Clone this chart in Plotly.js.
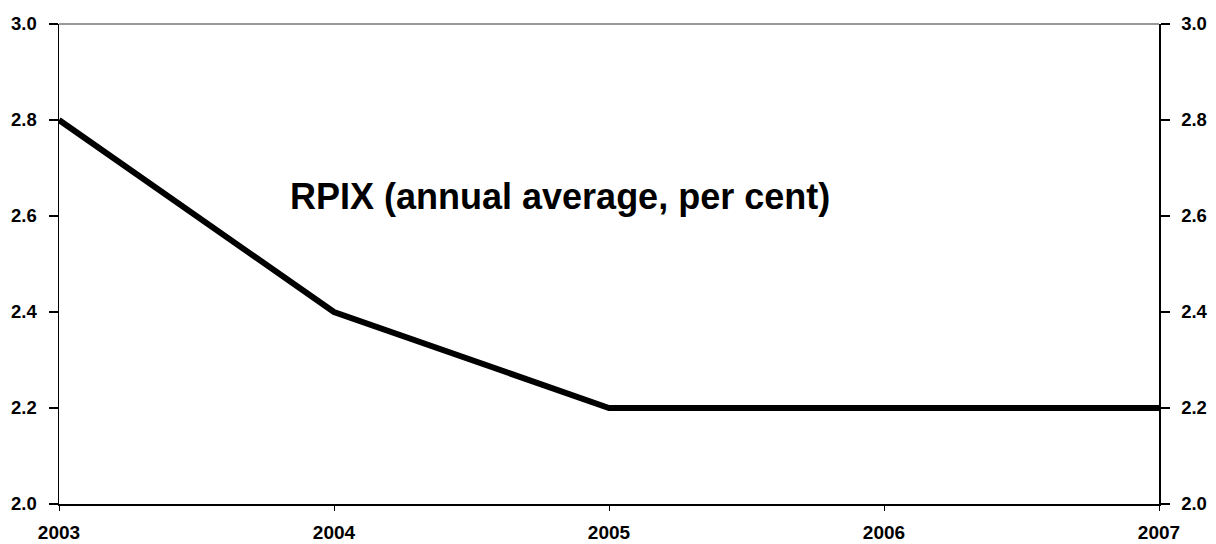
<!DOCTYPE html>
<html>
<head>
<meta charset="utf-8">
<script src="https://cdn.plot.ly/plotly-3.0.1.min.js"></script>
<style>html,body{margin:0;padding:0;background:#fff;}#chart{width:1216px;height:544px;}</style>
</head>
<body>
<div id="chart"></div>
<script>
const years = [2003, 2004, 2005, 2006, 2007];
const rpix = [2.8, 2.4, 2.2, 2.2, 2.2];
const yTicks = [2.0, 2.2, 2.4, 2.6, 2.8, 3.0];
const yTickLabels = ['2.0', '2.2', '2.4', '2.6', '2.8', '3.0'];
const chartLabel = 'RPIX (annual average, per cent)';

const font = {family: 'Liberation Sans, Arial, sans-serif', size: 19, color: '#000'};

const traces = [
  {x: years, y: rpix, type: 'scatter', mode: 'lines', line: {color: '#000', width: 6}, hoverinfo: 'skip', showlegend: false},
  {x: years, y: rpix, type: 'scatter', mode: 'lines', yaxis: 'y2', line: {color: 'rgba(0,0,0,0)', width: 0}, hoverinfo: 'skip', showlegend: false}
];

const yCommon = {
  range: [2.0, 3.0], tickmode: 'array', tickvals: yTicks, ticktext: yTickLabels,
  ticks: 'outside', ticklen: 9, tickwidth: 1.5, tickcolor: '#000',
  showline: true, linecolor: '#000', linewidth: 1.5, showgrid: false, zeroline: false,
  ticklabelstandoff: 8,
  tickfont: {family: font.family, size: 18.5, color: '#000', weight: 'bold'}, fixedrange: true
};

const layout = {
  width: 1216, height: 544,
  margin: {l: 59, r: 57, t: 24, b: 40},
  paper_bgcolor: '#fff', plot_bgcolor: '#fff',
  font: font,
  xaxis: {
    range: [2003, 2007], tickmode: 'array', tickvals: years, ticktext: years.map(String),
    ticks: 'outside', ticklen: 5, tickwidth: 1, tickcolor: '#000',
    showline: true, linecolor: '#000', linewidth: 1.5, showgrid: false, zeroline: false,
    ticklabelstandoff: 6,
    tickfont: {family: font.family, size: 19, color: '#000', weight: 'bold'}
  },
  yaxis: Object.assign({}, yCommon, {side: 'left'}),
  yaxis2: Object.assign({}, yCommon, {side: 'right', overlaying: 'y'}),
  shapes: [{type: 'line', xref: 'paper', yref: 'paper', x0: 0, x1: 1, y0: 1, y1: 1, line: {color: '#999', width: 2}}],
  annotations: [{
    text: chartLabel, xref: 'paper', yref: 'paper', x: 0.455, y: 0.64, xanchor: 'center', yanchor: 'middle',
    showarrow: false, font: {family: font.family, size: 36, color: '#000', weight: 'bold'}
  }]
};

Plotly.newPlot('chart', traces, layout, {displayModeBar: false, staticPlot: true});
</script>
</body>
</html>
